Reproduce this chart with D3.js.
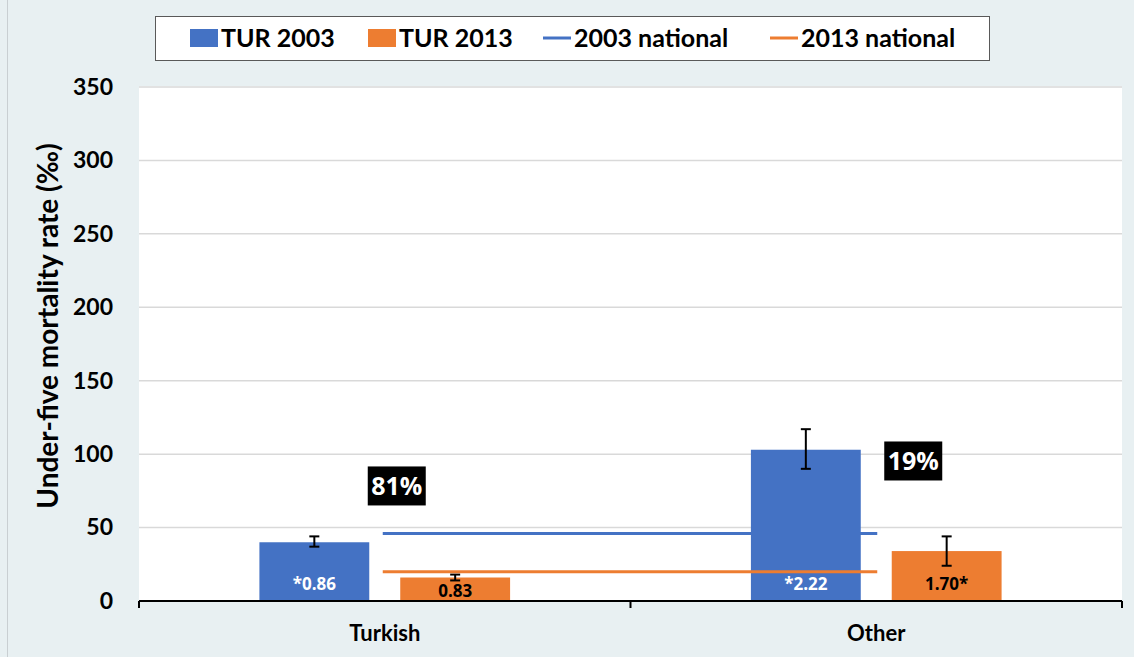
<!DOCTYPE html>
<html>
<head>
<meta charset="utf-8">
<script src="https://cdn.jsdelivr.net/npm/d3@7"></script>
<style>
  html, body { margin: 0; padding: 0; background: #e8f0f2; }
  svg { display: block; }
  text { font-family: "Lato", "Open Sans", sans-serif; font-weight: bold; }
</style>
</head>
<body>
<svg id="chart" width="1134" height="657"></svg>
<script>
// Under-five mortality by ethnic group, 2003 vs 2013
const categories = ["Turkish", "Other"];
const seriesNames = ["TUR 2003", "TUR 2013"];
const values2003 = [40, 103];
const values2013 = [16, 34];
const errLow2003 = [37, 90];
const errHigh2003 = [44, 117];
const errLow2013 = [14, 24];
const errHigh2013 = [18, 44];
const barLabels2003 = ["*0.86", "*2.22"];
const barLabels2013 = ["0.83", "1.70*"];
const national2003 = 46;
const national2013 = 20;
const shareLabels = ["81%", "19%"];
const yTicks = [0, 50, 100, 150, 200, 250, 300, 350];

const colors = { "TUR 2003": "#4472c4", "TUR 2013": "#ed7d31" };

const svg = d3.select("#chart");
const W = 1134, H = 657;
const plot = { left: 139, right: 1122, top: 87, bottom: 601 };

// outer frame
svg.append("rect").attr("x", 0).attr("y", 0).attr("width", W).attr("height", H).attr("fill", "#e8f0f2");
svg.append("line").attr("x1", 7.5).attr("x2", 7.5).attr("y1", 0).attr("y2", H)
  .attr("stroke", "#c9cfd2").attr("stroke-width", 1);

// white plot area
svg.append("rect").attr("x", plot.left).attr("y", plot.top - 1)
  .attr("width", plot.right - plot.left).attr("height", plot.bottom - plot.top + 1).attr("fill", "#ffffff");

const y = d3.scaleLinear().domain([0, 350]).range([plot.bottom, plot.top]);
const x0 = d3.scaleBand().domain(categories).range([plot.left, plot.right]).paddingInner(0).paddingOuter(0);
const x1 = d3.scaleBand().domain(seriesNames).range([0, x0.bandwidth()])
  .paddingInner(0.22).paddingOuter(0.855);

// gridlines
svg.append("g").selectAll("line").data(yTicks.filter(d => d > 0)).join("line")
  .attr("x1", plot.left).attr("x2", plot.right)
  .attr("y1", d => y(d)).attr("y2", d => y(d))
  .attr("stroke", "#d9d9d9").attr("stroke-width", 1.5);

// y tick labels
const yAxis = d3.axisLeft(y).tickValues(yTicks).tickSize(0).tickPadding(0);
const gy = svg.append("g").attr("transform", `translate(113,0)`).call(yAxis);
gy.select(".domain").remove();
gy.selectAll("text").attr("font-size", 23).attr("fill", "#000")
  .style("font-family", "Lato, sans-serif").style("font-weight", "bold");

// y axis title
svg.append("text")
  .attr("transform", `translate(58,326) rotate(-90)`)
  .attr("text-anchor", "middle")
  .attr("font-size", 28).attr("fill", "#000")
  .text("Under-five mortality rate (‰)");

// bars
const rows = categories.map((c, i) => ({
  cat: c,
  items: [
    { s: "TUR 2003", v: values2003[i], lo: errLow2003[i], hi: errHigh2003[i], lab: barLabels2003[i], labColor: "#ffffff" },
    { s: "TUR 2013", v: values2013[i], lo: errLow2013[i], hi: errHigh2013[i], lab: barLabels2013[i], labColor: "#000000" }
  ]
}));

const groups = svg.append("g").selectAll("g").data(rows).join("g")
  .attr("transform", d => `translate(${x0(d.cat)},0)`);

groups.selectAll("rect").data(d => d.items).join("rect")
  .attr("x", d => x1(d.s)).attr("width", x1.bandwidth())
  .attr("y", d => y(d.v)).attr("height", d => y(0) - y(d.v))
  .attr("fill", d => colors[d.s]);

// national reference lines between category centres
const lineX1 = x0(categories[0]) + x0.bandwidth() / 2 - 2;
const lineX2 = x0(categories[1]) + x0.bandwidth() / 2 + 1;
[[national2003, colors["TUR 2003"]], [national2013, colors["TUR 2013"]]].forEach(([v, c]) => {
  svg.append("line").attr("x1", lineX1).attr("x2", lineX2)
    .attr("y1", y(v)).attr("y2", y(v))
    .attr("stroke", c).attr("stroke-width", 3);
});

// error bars
const eb = groups.selectAll("g.err").data(d => d.items).join("g").attr("class", "err");
eb.append("line")
  .attr("x1", d => x1(d.s) + x1.bandwidth() / 2).attr("x2", d => x1(d.s) + x1.bandwidth() / 2)
  .attr("y1", d => y(d.lo)).attr("y2", d => y(d.hi))
  .attr("stroke", "#000").attr("stroke-width", 2);
["lo", "hi"].forEach(k => {
  eb.append("line")
    .attr("x1", d => x1(d.s) + x1.bandwidth() / 2 - 5).attr("x2", d => x1(d.s) + x1.bandwidth() / 2 + 5)
    .attr("y1", d => y(d[k])).attr("y2", d => y(d[k]))
    .attr("stroke", "#000").attr("stroke-width", 2);
});

// bar value labels, placed at the base of each bar
groups.selectAll("text.val").data(d => d.items).join("text").attr("class", "val")
  .attr("x", d => x1(d.s) + x1.bandwidth() / 2)
  .attr("y", d => Math.max(y(d.v) + 19, y(0) - 11))
  .attr("text-anchor", "middle").attr("font-size", 17)
  .attr("fill", d => d.labColor)
  .style("font-family", "\"Open Sans\", Lato, sans-serif")
  .text(d => d.lab);

// share boxes
const shareY = [78, 95];
const shareDX = [12, 37];
shareLabels.forEach((t, i) => {
  const cx = x0(categories[i]) + x0.bandwidth() / 2 + shareDX[i];
  const cy = y(shareY[i]);
  svg.append("rect").attr("x", cx - 29).attr("y", cy - 20).attr("width", 58).attr("height", 39)
    .attr("fill", "#000");
  svg.append("text").attr("x", cx).attr("y", cy + 9).attr("text-anchor", "middle")
    .attr("font-size", 25).attr("fill", "#fff")
    .style("font-family", "\"Open Sans\", Lato, sans-serif")
    .text(t);
});

// x axis
const gx = svg.append("g").attr("transform", `translate(0,${plot.bottom})`);
gx.append("line").attr("x1", plot.left).attr("x2", plot.right).attr("y1", 0).attr("y2", 0)
  .attr("stroke", "#000").attr("stroke-width", 2);
[plot.left, (plot.left + plot.right) / 2, plot.right].forEach(xx => {
  gx.append("line").attr("x1", xx).attr("x2", xx).attr("y1", 0).attr("y2", 7)
    .attr("stroke", "#000").attr("stroke-width", 2);
});
categories.forEach(c => {
  gx.append("text").attr("x", x0(c) + x0.bandwidth() / 2).attr("y", 40)
    .attr("text-anchor", "middle").attr("font-size", 22).attr("fill", "#000").text(c);
});

// legend
const legend = svg.append("g");
legend.append("rect").attr("x", 155.5).attr("y", 16.5).attr("width", 834).attr("height", 44)
  .attr("fill", "#fff").attr("stroke", "#595959").attr("stroke-width", 1);
const legItems = [
  { name: "TUR 2003", type: "rect", color: colors["TUR 2003"], x: 190 },
  { name: "TUR 2013", type: "rect", color: colors["TUR 2013"], x: 368 },
  { name: "2003 national", type: "line", color: colors["TUR 2003"], x: 543 },
  { name: "2013 national", type: "line", color: colors["TUR 2013"], x: 770 }
];
legItems.forEach(d => {
  if (d.type === "rect") {
    legend.append("rect").attr("x", d.x).attr("y", 29).attr("width", 28).attr("height", 18).attr("fill", d.color);
  } else {
    legend.append("line").attr("x1", d.x).attr("x2", d.x + 28).attr("y1", 38).attr("y2", 38)
      .attr("stroke", d.color).attr("stroke-width", 3);
  }
  legend.append("text").attr("x", d.x + 31).attr("y", 47).attr("font-size", 25).attr("fill", "#000").text(d.name);
});
</script>
</body>
</html>
